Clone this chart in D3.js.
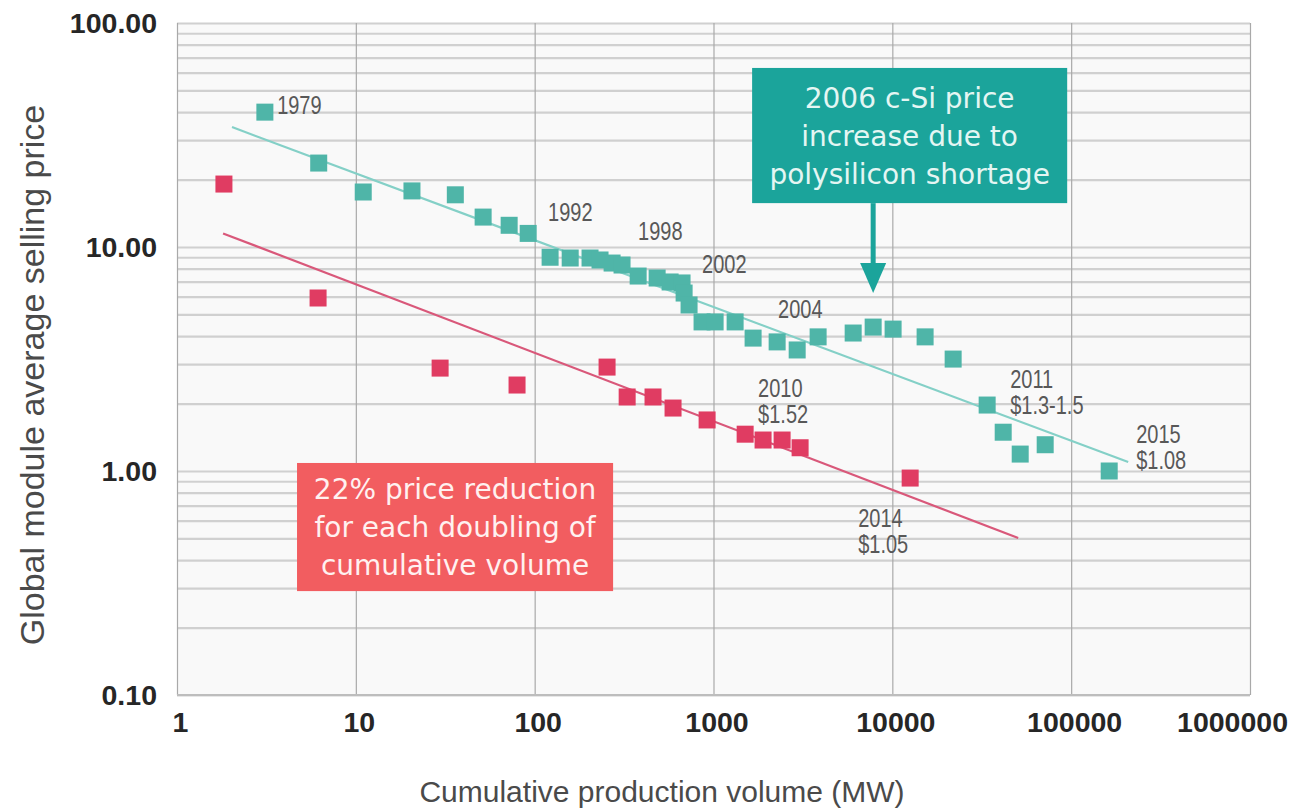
<!DOCTYPE html>
<html>
<head>
<meta charset="utf-8">
<script src="https://cdn.jsdelivr.net/npm/d3@7"></script>
<style>
  body { margin: 0; background: #fff; }
  svg { display: block; }
</style>
</head>
<body>
<div id="chart"></div>
<script>
// ─── DATA ───────────────────────────────────────────────────────────────────────
// c-Si module price history (teal) -- cumulative MW vs $/W
const tealVolume = [3.1, 6.2, 11, 20.6, 36, 51.5, 72, 92, 122, 158, 204, 232, 271, 308,
  379, 484, 572, 667, 685, 730, 863, 1021, 1321, 1665, 2269, 2937, 3846,
  6039, 7812, 10100, 15250, 21880, 33900, 41680, 51880, 71570, 163200];
const tealPrice = [40, 23.7, 17.6, 17.8, 17.1, 13.6, 12.5, 11.5, 9.0, 8.93, 8.93, 8.75, 8.48, 8.31,
  7.42, 7.27, 6.98, 6.91, 6.23, 5.51, 4.63, 4.63, 4.63, 3.92, 3.77, 3.47, 3.97,
  4.13, 4.39, 4.30, 3.97, 3.16, 1.97, 1.49, 1.19, 1.31, 1.0];

// red series
const redVolume = [1.83, 6.15, 29.6, 79.7, 254, 329, 459, 594, 921, 1503, 1893, 2419, 3050, 12580];
const redPrice = [19.1, 5.92, 2.88, 2.42, 2.91, 2.14, 2.14, 1.91, 1.69, 1.46, 1.375, 1.375, 1.27, 0.93];

// trend lines [start, end]
const tealTrendVolume = [2.03, 208400];
const tealTrendPrice = [34.3, 1.097];
const redTrendVolume = [1.81, 50560];
const redTrendPrice = [11.5, 0.502];

// year labels
const labelText = [['1979'], ['1992'], ['1998'], ['2002'], ['2004'], ['2010', '$1.52'],
  ['2011', '$1.3-1.5'], ['2015', '$1.08'], ['2014', '$1.05']];
const labelVolume = [3.63, 118.8, 378.8, 863, 2297, 1776, 45600, 231000, 6440];
const labelPrice = [39.3, 13.06, 10.74, 7.65, 4.82, 2.14, 2.35, 1.33, 0.562];

// ticks
const xTicks = [1, 10, 100, 1000, 10000, 100000, 1000000];
const yTicks = [0.1, 1, 10, 100];

// annotation texts
const tealNote = ['2006 c-Si price', 'increase due to', 'polysilicon shortage'];
const redNote = ['22% price reduction', 'for each doubling of', 'cumulative volume'];

// ─── COLOURS ────────────────────────────────────────────────────────────────────
const teal = '#4fb5a8';
const tealLine = '#84d0c7';
const tealBox = '#1ba49b';
const red = '#e03c62';
const redLine = '#d9587a';
const redBox = '#f25d60';

// ─── CANVAS ─────────────────────────────────────────────────────────────────────
const W = 1312, H = 812;
const plotLeft = 177, plotRight = 1250, plotTop = 23, plotBottom = 695;

const svg = d3.select('#chart').append('svg')
  .attr('width', W).attr('height', H)
  .style('background', '#fff');

// ─── SCALES ─────────────────────────────────────────────────────────────────────
const x = d3.scaleLog().domain([1, 1000000]).range([plotLeft, plotRight]);
const y = d3.scaleLog().domain([0.1, 100]).range([plotBottom, plotTop]);

// plot background
svg.append('rect')
  .attr('x', plotLeft).attr('y', plotTop)
  .attr('width', plotRight - plotLeft).attr('height', plotBottom - plotTop)
  .attr('fill', '#f9f9f9');

// ─── GRID ───────────────────────────────────────────────────────────────────────
// minor horizontal lines 1..9 for each decade
let yMinor = [];
[0.1, 1, 10].forEach(d => { for (let k = 1; k <= 9; k++) yMinor.push(+(d * k).toPrecision(3)); });
yMinor.push(100);

svg.append('g')
  .attr('transform', `translate(${plotLeft},0)`)
  .call(d3.axisLeft(y).tickValues(yMinor).tickSize(-(plotRight - plotLeft)).tickFormat(''))
  .call(g => g.select('.domain').remove())
  .call(g => g.selectAll('line').attr('stroke', '#d0d0d0').attr('stroke-width', 2.2));

svg.append('g')
  .attr('transform', `translate(0,${plotBottom})`)
  .call(d3.axisBottom(x).tickValues(xTicks).tickSize(-(plotBottom - plotTop)).tickFormat(''))
  .call(g => g.select('.domain').remove())
  .call(g => g.selectAll('line').attr('stroke', '#a9a9a9').attr('stroke-width', 1.2));

// bottom border
svg.append('line')
  .attr('x1', plotLeft).attr('x2', plotRight).attr('y1', y(0.1)).attr('y2', y(0.1))
  .attr('stroke', '#bdbdbd').attr('stroke-width', 2);

// ─── AXIS LABELS ────────────────────────────────────────────────────────────────
svg.append('g')
  .attr('transform', `translate(${plotLeft},0)`)
  .call(d3.axisLeft(y).tickValues(yTicks).tickSize(0).tickPadding(20).tickFormat(d3.format('.2f')))
  .call(g => g.select('.domain').remove())
  .call(g => g.selectAll('text')
    .attr('font-family', 'Liberation Sans, Arial, sans-serif')
    .attr('font-size', 28.5).attr('font-weight', 'bold').attr('fill', '#262626'));

svg.append('g')
  .attr('transform', `translate(0,${plotBottom})`)
  .call(d3.axisBottom(x).tickValues(xTicks).tickSize(0).tickPadding(17).tickFormat(d3.format('d')))
  .call(g => g.select('.domain').remove())
  .call(g => g.selectAll('text')
    .attr('font-family', 'Liberation Sans, Arial, sans-serif')
    .attr('font-size', 28.5).attr('font-weight', 'bold').attr('fill', '#262626')
    .attr('dx', (d, i) => i === xTicks.length - 1 ? -18 : 3));

svg.append('text')
  .attr('x', 662).attr('y', 802)
  .attr('text-anchor', 'middle')
  .attr('font-family', 'Liberation Sans, Arial, sans-serif')
  .attr('font-size', 30).attr('fill', '#4a4a4a')
  .text('Cumulative production volume (MW)');

svg.append('text')
  .attr('transform', 'translate(44,375) rotate(-90)')
  .attr('text-anchor', 'middle')
  .attr('font-family', 'Liberation Sans, Arial, sans-serif')
  .attr('font-size', 34).attr('fill', '#4a4a4a')
  .text('Global module average selling price');

// ─── TREND LINES ────────────────────────────────────────────────────────────────
const line = d3.line().x(d => x(d[0])).y(d => y(d[1]));

svg.append('path')
  .datum(d3.zip(tealTrendVolume, tealTrendPrice))
  .attr('d', line).attr('fill', 'none')
  .attr('stroke', tealLine).attr('stroke-width', 2.2);

svg.append('path')
  .datum(d3.zip(redTrendVolume, redTrendPrice))
  .attr('d', line).attr('fill', 'none')
  .attr('stroke', redLine).attr('stroke-width', 2.2);

// ─── MARKERS ────────────────────────────────────────────────────────────────────
const S = 17;
svg.append('g').selectAll('rect')
  .data(d3.zip(tealVolume, tealPrice))
  .enter().append('rect')
  .attr('x', d => x(d[0]) - S / 2).attr('y', d => y(d[1]) - S / 2)
  .attr('width', S).attr('height', S)
  .attr('fill', teal);

svg.append('g').selectAll('rect')
  .data(d3.zip(redVolume, redPrice))
  .enter().append('rect')
  .attr('x', d => x(d[0]) - S / 2).attr('y', d => y(d[1]) - S / 2)
  .attr('width', S).attr('height', S)
  .attr('fill', red);

// ─── YEAR LABELS ────────────────────────────────────────────────────────────────
// narrow look: squeeze Liberation Sans horizontally
const labels = svg.append('g');

labelText.forEach((lines, i) => {
  const t = labels.append('text')
    .attr('transform', `translate(${x(labelVolume[i])},${y(labelPrice[i])}) scale(0.8,1)`)
    .attr('font-family', 'Liberation Sans, Arial, sans-serif')
    .attr('font-size', 25).attr('fill', '#585858');
  lines.forEach((s, j) => {
    t.append('tspan').attr('x', 0).attr('dy', j === 0 ? 0 : 26).text(s);
  });
});

// ─── ANNOTATIONS ────────────────────────────────────────────────────────────────
function noteBox(lines, x0, x1, y0, y1, fill, textFill) {
  const bx = x(x0), by = y(y0), bw = x(x1) - x(x0), bh = y(y1) - y(y0);
  svg.append('rect')
    .attr('x', bx).attr('y', by).attr('width', bw).attr('height', bh)
    .attr('fill', fill);
  const t = svg.append('text')
    .attr('text-anchor', 'middle')
    .attr('font-family', 'DejaVu Sans, sans-serif')
    .attr('font-size', 28).attr('fill', textFill);
  lines.forEach((s, j) => {
    t.append('tspan')
      .attr('x', bx + bw / 2)
      .attr('y', by + bh / 2 + (j - 1) * 38 + 10)
      .text(s);
  });
}

noteBox(tealNote, 1644, 95000, 63, 15.7, tealBox, '#e4f6f3');
noteBox(redNote, 4.69, 274.5, 1.086, 0.291, redBox, '#fff1f0');

// arrow from teal box down to the 2006 bump
const arrowX = x(7812);
const arrowTop = y(15.7), arrowTip = y(6.23);
svg.append('line')
  .attr('x1', arrowX).attr('x2', arrowX)
  .attr('y1', arrowTop).attr('y2', arrowTip - 20)
  .attr('stroke', tealBox).attr('stroke-width', 5);
svg.append('path')
  .attr('d', `M${arrowX - 13},${arrowTip - 30} L${arrowX + 13},${arrowTip - 30} L${arrowX},${arrowTip} Z`)
  .attr('fill', tealBox);
</script>
</body>
</html>
